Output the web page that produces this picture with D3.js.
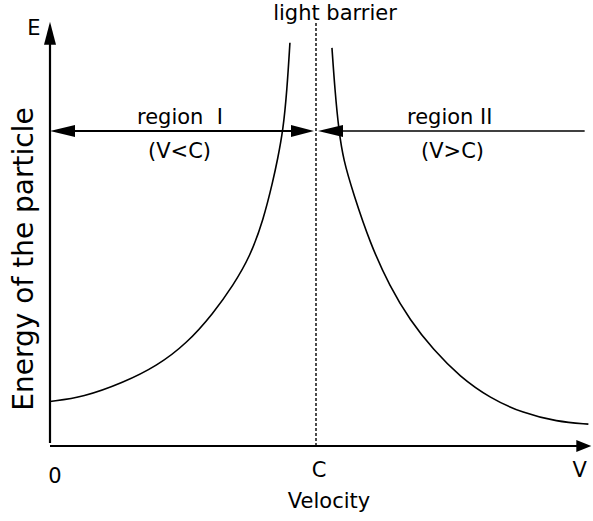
<!DOCTYPE html>
<html>
<head>
<meta charset="utf-8">
<script src="https://cdn.jsdelivr.net/npm/d3@7"></script>
<style>
  body { margin: 0; background: #fff; }
  text { font-family: "DejaVu Sans", sans-serif; fill: #000; }
</style>
</head>
<body>
<div id="chart"></div>
<script>
// velocity in units of C, energy in arbitrary units
var velocityBelow = [0, 0.125, 0.276, 0.401, 0.514, 0.614, 0.689, 0.752, 0.802, 0.839, 0.855, 0.876, 0.891, 0.902];
var energyBelow   = [1.06, 1.16, 1.51, 1.90, 2.44, 3.16, 3.83, 4.51, 5.38, 6.33, 6.81, 7.50, 8.48, 9.60];

var velocityAbove = [1.060, 1.071, 1.086, 1.103, 1.140, 1.203, 1.278, 1.353, 1.441, 1.541, 1.654, 1.779, 1.905, 2.024];
var energyAbove   = [9.48, 8.48, 7.50, 6.81, 6.02, 4.83, 3.79, 3.00, 2.29, 1.65, 1.14, 0.78, 0.58, 0.52];

var tickValues = [0, 1, 1.98];
var tickLabels = ["0", "C", "V"];
var regionEnergy = 7.5;   // level of the region arrows
var barrier = 1;          // light barrier at V = C

var width = 593, height = 521;

var svg = d3.select("#chart")
  .append("svg")
    .attr("width", width)
    .attr("height", height);

var x = d3.scaleLinear().domain([0, 2]).range([50, 582]);
var y = d3.scaleLinear().domain([0, 10]).range([446, 26]);

var xEnd = 2.035, yEnd = 10.1;

// filled arrow head, tip at (tx,ty), pointing along (dx,dy)
function arrowHead(tx, ty, dx, dy, len, half) {
  var bx = tx - dx * len, by = ty - dy * len;
  var px = -dy * half, py = dx * half;
  svg.append("path")
    .attr("d", "M" + tx + "," + ty + "L" + (bx + px) + "," + (by + py) + "L" + (bx - px) + "," + (by - py) + "Z")
    .attr("fill", "#000");
}

// axes
svg.append("line")
  .attr("x1", x(0)).attr("y1", y(0))
  .attr("x2", x(xEnd) - 8).attr("y2", y(0))
  .attr("stroke", "#000").attr("stroke-width", 2.2);
arrowHead(x(xEnd), y(0), 1, 0, 15, 6);

svg.append("line")
  .attr("x1", x(0)).attr("y1", y(0) - 3)
  .attr("x2", x(0)).attr("y2", y(yEnd) + 10)
  .attr("stroke", "#000").attr("stroke-width", 2.2);
arrowHead(x(0), y(yEnd), 0, -1, 23, 6);

// light barrier
svg.append("line")
  .attr("x1", x(barrier)).attr("y1", y(0))
  .attr("x2", x(barrier)).attr("y2", 22)
  .attr("stroke", "#000").attr("stroke-width", 1.4)
  .attr("stroke-dasharray", "3,2");

// region arrows
var ry = y(regionEnergy);
svg.append("line")
  .attr("x1", x(0) + 10).attr("y1", ry)
  .attr("x2", x(barrier) - 10).attr("y2", ry)
  .attr("stroke", "#000").attr("stroke-width", 2);
svg.append("line")
  .attr("x1", x(barrier) + 10).attr("y1", ry)
  .attr("x2", x(2.01)).attr("y2", ry)
  .attr("stroke", "#000").attr("stroke-width", 1.3);
arrowHead(x(0), ry, -1, 0, 25, 6);
arrowHead(x(barrier) - 2, ry, 1, 0, 23, 6);
arrowHead(x(barrier) + 2, ry, -1, 0, 25, 6);

// curves
var line = d3.line()
  .x(function(d) { return x(d[0]); })
  .y(function(d) { return y(d[1]); })
  .curve(d3.curveBasis);

svg.append("path")
  .datum(d3.zip(velocityBelow, energyBelow))
  .attr("d", line)
  .attr("fill", "none").attr("stroke", "#000").attr("stroke-width", 1.6);

svg.append("path")
  .datum(d3.zip(velocityAbove, energyAbove))
  .attr("d", line)
  .attr("fill", "none").attr("stroke", "#000").attr("stroke-width", 1.6);

// labels
var fs = "21px";

svg.selectAll(".tick-label")
  .data(tickValues)
  .enter()
  .append("text")
    .attr("class", "tick-label")
    .attr("x", function(d, i) { return x(d) + (i == 0 ? 5 : 3); })
    .attr("y", function(d, i) { return i == 0 ? 483 : 477; })
    .attr("text-anchor", "middle")
    .style("font-size", fs)
    .text(function(d, i) { return tickLabels[i]; });

svg.append("text")
  .attr("x", x(barrier) + 13).attr("y", 508)
  .attr("text-anchor", "middle").style("font-size", fs)
  .text("Velocity");

svg.append("text")
  .attr("transform", "translate(33," + 259 + ") rotate(-90)")
  .attr("text-anchor", "middle").style("font-size", "28px")
  .text("Energy of the particle");

svg.append("text")
  .attr("x", 34).attr("y", 35)
  .attr("text-anchor", "middle").style("font-size", fs)
  .text("E");

svg.append("text")
  .attr("x", x(barrier) + 19).attr("y", 20)
  .attr("text-anchor", "middle").style("font-size", fs)
  .text("light barrier");

svg.append("text")
  .attr("x", 137).attr("y", ry - 7)
  .style("font-size", fs).style("white-space", "pre")
  .text("region  I");

svg.append("text")
  .attr("x", 148).attr("y", ry + 27)
  .style("font-size", fs)
  .text("(V<C)");

svg.append("text")
  .attr("x", 407).attr("y", ry - 7)
  .style("font-size", fs)
  .text("region II");

svg.append("text")
  .attr("x", 421).attr("y", ry + 27)
  .style("font-size", fs)
  .text("(V>C)");
</script>
</body>
</html>
